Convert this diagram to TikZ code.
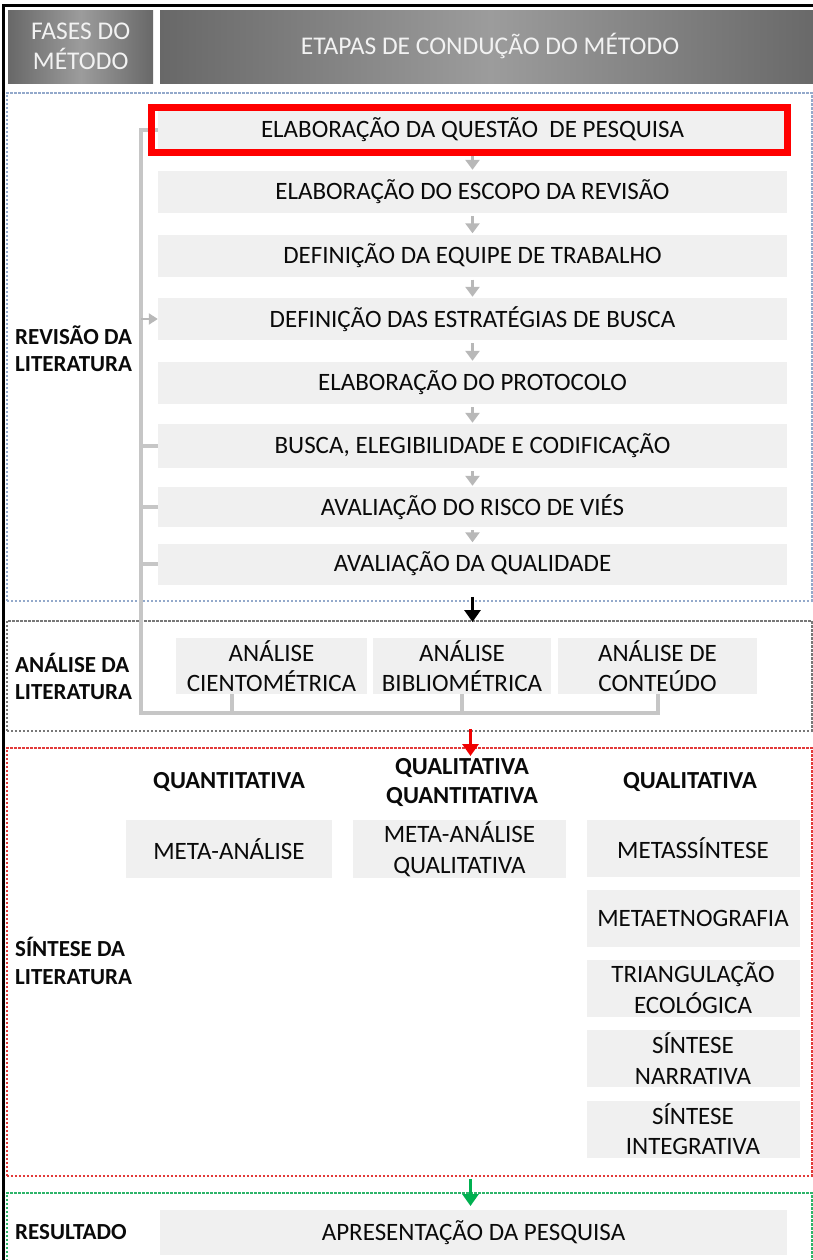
\documentclass[tikz,border=0pt]{standalone}
\usepackage{fontspec}
\setmainfont{Carlito}
\usetikzlibrary{arrows.meta,calc}
\definecolor{boxgray}{HTML}{F0F0F0}
\definecolor{txt}{HTML}{0A0A0A}
\definecolor{hdrdark}{HTML}{686868}
\definecolor{hdrlight}{HTML}{9C9C9C}
\definecolor{hdrtxt}{HTML}{F2F2F2}
\definecolor{brk}{HTML}{C6C6C6}
\definecolor{smallarr}{HTML}{B8B8B8}
\definecolor{revc}{HTML}{93A9CB}
\definecolor{anac}{HTML}{777777}
\definecolor{sinc}{HTML}{E23A3A}
\definecolor{resc}{HTML}{2DB46A}
\definecolor{arrred}{HTML}{F00000}
\definecolor{arrgreen}{HTML}{00B050}
\begin{document}
\begin{tikzpicture}[x=1pt,y=-1pt,
  box/.style={fill=boxgray, inner sep=0pt, align=center, text=txt,
    font=\fontsize{25}{30.5}\selectfont},
  stepbox/.style={box, minimum width=629pt, minimum height=42pt},
  anabox/.style={box, minimum height=56pt},
  synbox/.style={box, minimum height=57pt},
  hdr/.style={inner sep=0pt, align=center, text=hdrtxt, shading=axis,
    left color=hdrdark, right color=hdrdark, middle color=hdrlight, shading angle=90,
    font=\fontsize{25.5}{30}\selectfont},
  lbl/.style={inner sep=0pt, align=left, anchor=west, text=txt,
    font=\fontsize{23}{27.5}\selectfont\bfseries},
  head/.style={inner sep=0pt, align=center, text=txt,
    font=\fontsize{24.5}{29}\selectfont\bfseries},
  sec/.style={inner sep=0pt, anchor=north west, line width=1.8pt,
    dash pattern=on 2.5pt off 1.5pt},
  bracket/.style={draw=brk, line width=4pt},
  sarr/.style={draw=smallarr, line width=3.5pt, -{Triangle[width=14pt,length=10pt]}},
  barr/.style={line width=3.6pt, -{Triangle[width=16pt,length=12pt]}},
]
\useasboundingbox (0,0) rectangle (813,1260);
\clip (0,0) rectangle (813,1260);

% outer frame
\draw[line width=3pt, black] (3,1265) -- (3,6) -- (820,6);

% header
\node[hdr, minimum width=145pt, minimum height=73pt, anchor=north west] (hf) at (8,10) {FASES DO\\MÉTODO};
\node[hdr, minimum width=660pt, minimum height=73pt, anchor=north west] (he) at (160,10) {};
\node[inner sep=0pt, text=hdrtxt, font=\fontsize{25.5}{30}\selectfont] (het) at (490,46) {ETAPAS DE CONDUÇÃO DO MÉTODO};

% sections
\node[sec, draw=revc, minimum width=805pt, minimum height=508pt] (secR) at (6,92) {};
\node[sec, draw=anac, minimum width=805pt, minimum height=110pt] (secA) at (6,620) {};
\node[sec, draw=sinc, minimum width=805pt, minimum height=428pt] (secS) at (6,747) {};
\node[sec, draw=resc, minimum width=805pt, minimum height=80pt] (secE) at (6,1192) {};

% phase labels
\node[lbl] (lr) at (15,348.5) {REVISÃO DA\\LITERATURA};
\node[lbl] (la) at (15,676.5) {ANÁLISE DA\\LITERATURA};
\node[lbl] (ls) at (15,961) {SÍNTESE DA\\LITERATURA};
\node[lbl] (le) at (15,1232) {RESULTADO};

% review steps
\node[stepbox, minimum height=45pt] (s1) at (472.5,130) {ELABORAÇÃO DA QUESTÃO~~DE PESQUISA};
\node[stepbox] (s2) at (472.5,192) {ELABORAÇÃO DO ESCOPO DA REVISÃO};
\node[stepbox] (s3) at (472.5,255.5) {DEFINIÇÃO DA EQUIPE DE TRABALHO};
\node[stepbox] (s4) at (472.5,319) {DEFINIÇÃO DAS ESTRATÉGIAS DE BUSCA};
\node[stepbox] (s5) at (472.5,383) {ELABORAÇÃO DO PROTOCOLO};
\node[stepbox, minimum height=44pt] (s6) at (472.5,446) {BUSCA, ELEGIBILIDADE E CODIFICAÇÃO};
\node[stepbox, minimum height=40pt] (s7) at (472.5,507) {AVALIAÇÃO DO RISCO DE VIÉS};
\node[stepbox, minimum height=41pt] (s8) at (472.5,564) {AVALIAÇÃO DA QUALIDADE};

\foreach \a/\b in {s1/s2,s2/s3,s3/s4,s4/s5,s5/s6,s6/s7,s7/s8}
  \draw[sarr] ($(\a.south)+(0,3)$) -- ($(\b.north)+(0,-1)$);

% analysis boxes
\node[anabox, minimum width=191pt] (a1) at (271.5,666) {ANÁLISE\\CIENTOMÉTRICA};
\node[anabox, minimum width=178pt] (a2) at (462,666) {ANÁLISE\\BIBLIOMÉTRICA};
\node[anabox, minimum width=199pt] (a3) at (657.5,666) {ANÁLISE DE\\CONTEÚDO};

% bracket
\coordinate (bt) at (141,130);
\coordinate (bb) at (141,713);
\draw[bracket] (s1.west) -- (bt) -- (bb) -| (a3.south);
\draw[bracket] ([xshift=-39.5pt]a1.south) -- ([xshift=-39.5pt]a1.south |- bb);
\draw[bracket] (a2.south) -- (a2.south |- bb);
\draw[bracket] (s6.west -| bt) -- (s6.west);
\draw[bracket] (s7.west -| bt) -- (s7.west);
\draw[bracket] (s8.west -| bt) -- (s8.west);
\draw[bracket, draw=smallarr, line width=2.5pt, -{Triangle[width=11pt,length=9pt]}] (s4.west -| bt) -- (s4.west);

% red frame on first step
\draw[draw=red, line width=7pt] ($(s1.north west)+(-6.5,0)$) rectangle (s1.south east);

% synthesis headings and boxes
\node[head] (h1) at (229,782) {QUANTITATIVA};
\node[head] (h2) at (462,782.5) {QUALITATIVA\\QUANTITATIVA};
\node[head] (h3) at (690,782) {QUALITATIVA};

\node[synbox, minimum width=206pt, minimum height=58pt] (m1) at (229,849) {META-ANÁLISE};
\node[synbox, minimum width=213pt, minimum height=58pt] (m2) at (459.5,849) {META-ANÁLISE\\QUALITATIVA};
\node[synbox, minimum width=213pt] (m3) at (693,848.5) {METASSÍNTESE};
\node[synbox, minimum width=213pt] (m4) at (693,918) {METAETNOGRAFIA};
\node[synbox, minimum width=213pt] (m5) at (693,988) {TRIANGULAÇÃO\\ECOLÓGICA};
\node[synbox, minimum width=213pt] (m6) at (693,1058.5) {SÍNTESE\\NARRATIVA};
\node[synbox, minimum width=213pt] (m7) at (693,1129) {SÍNTESE\\INTEGRATIVA};

% result
\node[stepbox, minimum width=627pt, minimum height=45pt] (res) at (473.5,1232.5) {APRESENTAÇÃO DA PESQUISA};

% phase arrows
\draw[barr, black] ($(s8.south |- secR.south)+(0,-5)$) -- ($(s8.south |- secA.north)+(0,2)$);
\draw[barr, arrred] ($(s8.south |- secA.south)+(-2,-3)$) -- ($(s8.south |- secS.north)+(-2,9)$);
\draw[barr, arrgreen] ($(s8.south |- secS.south)+(-2,2)$) -- ($(s8.south |- secE.north)+(-2,14)$);
\end{tikzpicture}
\end{document}
